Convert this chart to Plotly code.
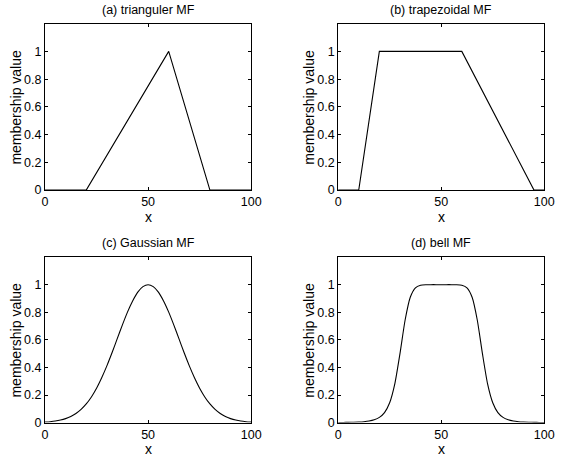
import plotly.graph_objects as go

# Membership functions
tri_x = [0, 20, 60, 80, 100]
tri_y = [0, 0, 1, 0, 0]

trap_x = [0, 10, 20, 60, 95, 100]
trap_y = [0, 0, 1, 1, 0, 0]

curve_x = [0, 2.5, 5, 7.5, 10, 12.5, 15, 17.5, 20, 22.5, 25, 27.5, 30, 32.5, 35, 37.5,
           40, 42.5, 45, 47.5, 50, 52.5, 55, 57.5, 60, 62.5, 65, 67.5, 70, 72.5, 75,
           77.5, 80, 82.5, 85, 87.5, 90, 92.5, 95, 97.5, 100]

gauss_half = [0.0039, 0.0066, 0.011, 0.0181, 0.0286, 0.0439, 0.0657, 0.0956, 0.135,
              0.186, 0.249, 0.325, 0.411, 0.506, 0.607, 0.707, 0.801, 0.882, 0.946,
              0.986, 1.0]
gauss_y = gauss_half + gauss_half[-2::-1]

bell_half = [0.00065, 0.00099, 0.0015, 0.0024, 0.0039, 0.0065, 0.0112, 0.0202, 0.0376,
             0.0725, 0.1437, 0.2805, 0.5, 0.744, 0.909, 0.977, 0.996, 0.9996, 1.0,
             1.0, 1.0]
bell_y = bell_half + bell_half[-2::-1]

titles = ["(a) trianguler MF", "(b) trapezoidal MF", "(c) Gaussian MF", "(d) bell MF"]
y_ticks = [0, 0.2, 0.4, 0.6, 0.8, 1]
y_tick_text = ["0", "0.2", "0.4", "0.6", "0.8", "1"]
x_ticks = [0, 50, 100]

W, H = 566, 468
# pixel boxes of the four plot areas: (left, right, top, bottom)
boxes = [(43, 254, 24, 193), (343, 554, 24, 193),
         (43, 254, 261, 429), (343, 554, 261, 429)]

series = [(tri_x, tri_y, "linear"), (trap_x, trap_y, "linear"),
          (curve_x, gauss_y, "spline"), (curve_x, bell_y, "spline")]

fig = go.Figure()
font = "Liberation Sans, Arial, Helvetica, sans-serif"
annotations = []

for i, ((xs, ys, shape), (l, r, t, b), title) in enumerate(zip(series, boxes, titles)):
    n = "" if i == 0 else str(i + 1)
    fig.add_trace(go.Scatter(x=xs, y=ys, mode="lines",
                             line=dict(color="black", width=1.1, shape=shape, smoothing=0.6),
                             xaxis="x" + n, yaxis="y" + n, showlegend=False,
                             hoverinfo="skip"))
    axis_common = dict(showline=True, linecolor="black", linewidth=1, mirror="ticks",
                       ticks="inside", ticklen=3, tickcolor="black", showgrid=False,
                       zeroline=False, tickfont=dict(family=font, size=12.5, color="black"))
    fig.layout["xaxis" + n] = dict(domain=[l / W, r / W], range=[0, 100],
                                   tickvals=x_ticks, anchor="y" + n, **axis_common)
    fig.layout["yaxis" + n] = dict(domain=[1 - b / H, 1 - t / H], range=[0, 1.2],
                                   tickvals=y_ticks, ticktext=y_tick_text,
                                   anchor="x" + n, **axis_common)
    cx = (l + r) / 2
    annotations.append(dict(text=title, x=cx / W, y=1 - (t - 14) / H, xref="paper",
                            yref="paper", showarrow=False, xanchor="center",
                            yanchor="middle", font=dict(family=font, size=12.5, color="black")))
    annotations.append(dict(text="x", x=cx / W, y=1 - (b + 27) / H, xref="paper",
                            yref="paper", showarrow=False, xanchor="center",
                            yanchor="middle", font=dict(family=font, size=14, color="black")))
    annotations.append(dict(text="membership value", x=(l - 30) / W,
                            y=1 - ((t + b) / 2) / H, xref="paper", yref="paper",
                            showarrow=False, textangle=-90, xanchor="center",
                            yanchor="middle", font=dict(family=font, size=14, color="black")))

fig.update_layout(width=W, height=H, margin=dict(l=0, r=0, t=0, b=0),
                  paper_bgcolor="white", plot_bgcolor="white",
                  annotations=annotations)

fig.write_html("out.html")
